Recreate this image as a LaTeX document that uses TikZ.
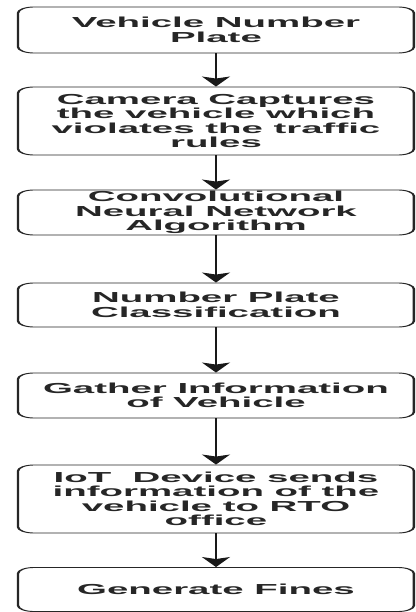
\documentclass[tikz,border=0pt]{standalone}
\usepackage{fontspec}
\setmainfont{Liberation Sans}
\usetikzlibrary{arrows.meta}
\begin{document}
\begin{tikzpicture}[x=1pt,y=1pt,
  flowbox/.style={draw=black!85, line width=0.9pt, rounded corners=6pt,
    minimum width=149.4pt, inner sep=0pt, align=center,
    font=\bfseries\fontsize{14.5}{14.5}\selectfont, text=black!85},
  flowarrow/.style={draw=black!90, line width=0.95pt,
    -{Stealth[width=10.5pt,length=10pt,inset=2pt]}}]
\fill[white] (0,0) rectangle (415,-612);
\useasboundingbox (0,0) rectangle (415,-612);
\begin{scope}[transform canvas={xscale=2.65}]
\node[flowbox, minimum height=46pt] (b1) at (81.5,-30) {Vehicle Number\\Plate};
\node[flowbox, minimum height=68pt] (b2) at (81.5,-121) {Camera Captures\\the vehicle which\\violates the traffic\\rules};
\node[flowbox, minimum height=45pt] (b3) at (81.5,-212.5) {Convolutional\\Neural Network\\Algorithm};
\node[flowbox, minimum height=44pt] (b4) at (81.5,-305) {Number Plate\\Classification};
\node[flowbox, minimum height=45pt] (b5) at (81.5,-395.5) {Gather Information\\of Vehicle};
\node[flowbox, minimum height=68pt] (b6) at (81.5,-499) {IoT\ \ Device sends\\information of the\\vehicle to RTO\\office};
\node[flowbox, minimum height=44pt] (b7) at (81.5,-589.5) {Generate Fines};
\draw[flowarrow] (b1) -- (b2);
\draw[flowarrow] (b2) -- (b3);
\draw[flowarrow] (b3) -- (b4);
\draw[flowarrow] (b4) -- (b5);
\draw[flowarrow] (b5) -- (b6);
\draw[flowarrow] (b6) -- (b7);
\end{scope}
\end{tikzpicture}
\end{document}
